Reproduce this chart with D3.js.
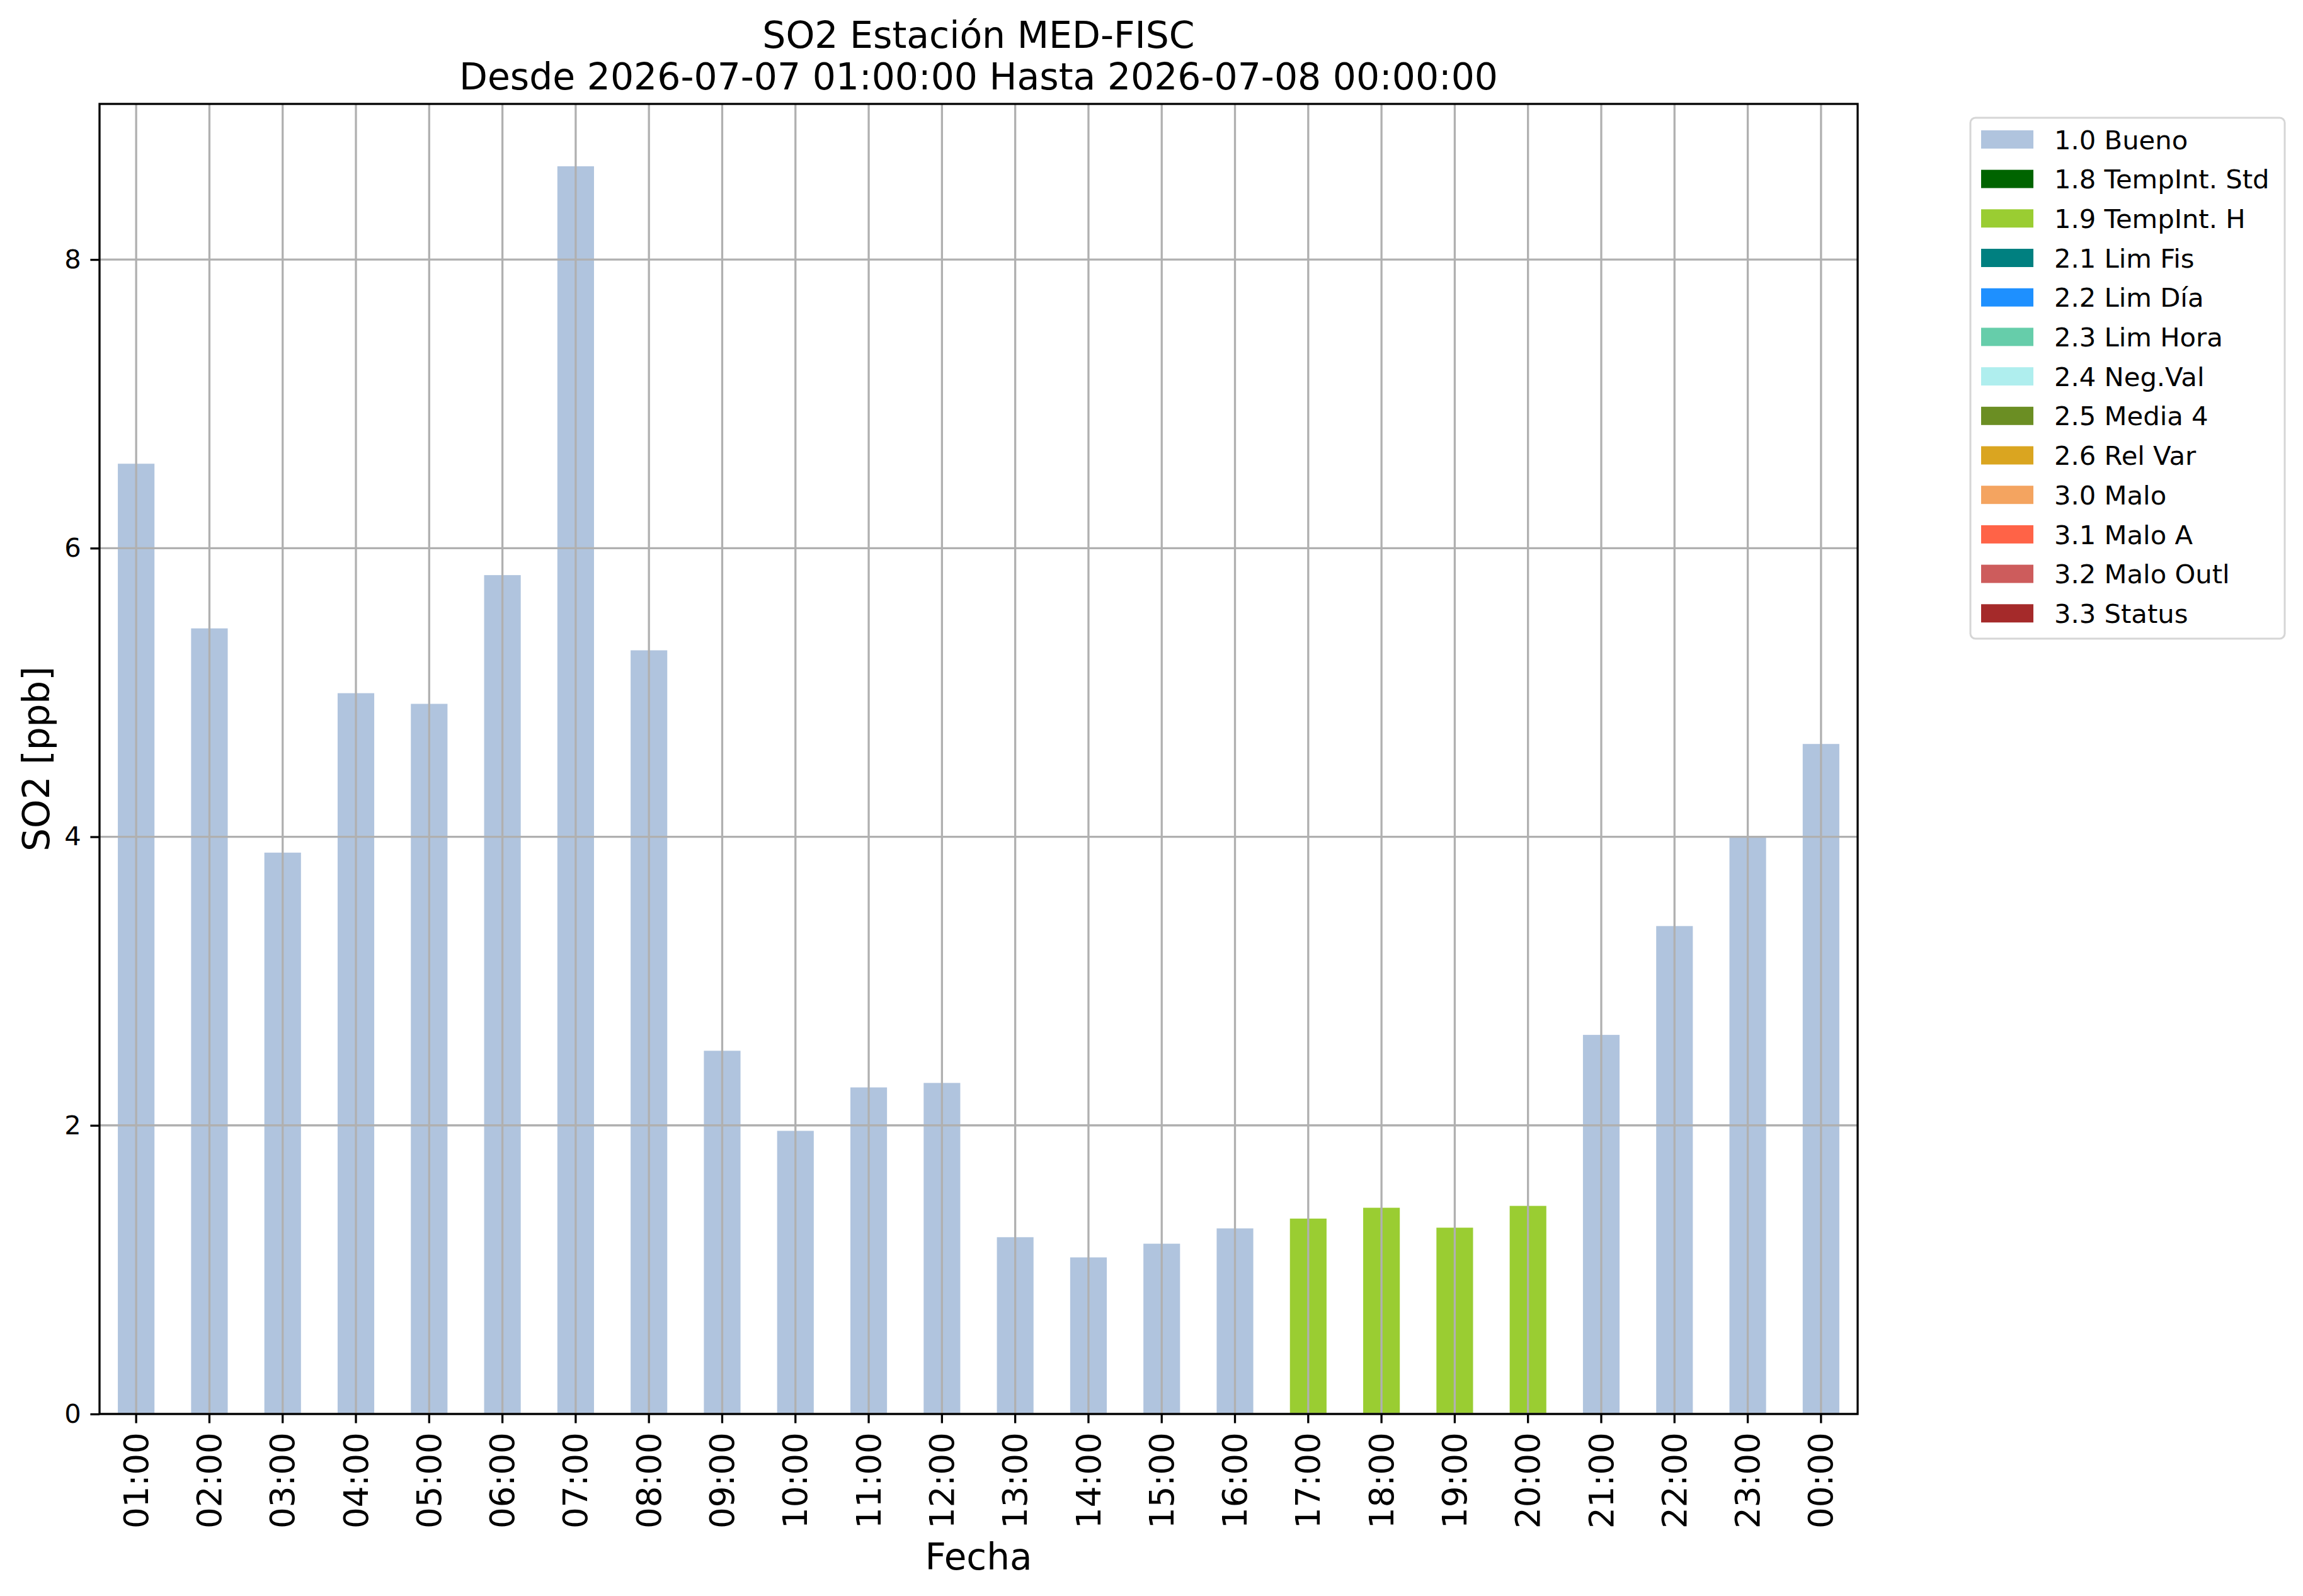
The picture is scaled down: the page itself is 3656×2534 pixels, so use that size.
<!DOCTYPE html>
<html>
<head>
<meta charset="utf-8">
<script src="https://cdn.jsdelivr.net/npm/d3@7"></script>
<style>
  html, body { margin: 0; padding: 0; background: #fff; }
  svg { display: block; font-family: "DejaVu Sans", sans-serif; }
</style>
</head>
<body>
<div id="chart"></div>
<script>
// datos
const hours = ["01:00", "02:00", "03:00", "04:00", "05:00", "06:00", "07:00", "08:00",
  "09:00", "10:00", "11:00", "12:00", "13:00", "14:00", "15:00", "16:00",
  "17:00", "18:00", "19:00", "20:00", "21:00", "22:00", "23:00", "00:00"];
const so2 = [6.585, 5.444, 3.890, 4.995, 4.921, 5.813, 8.646, 5.292,
  2.517, 1.962, 2.263, 2.294, 1.225, 1.085, 1.180, 1.286,
  1.354, 1.429, 1.291, 1.442, 2.627, 3.381, 3.995, 4.643];
const flags = ["1.0 Bueno", "1.0 Bueno", "1.0 Bueno", "1.0 Bueno", "1.0 Bueno", "1.0 Bueno", "1.0 Bueno", "1.0 Bueno",
  "1.0 Bueno", "1.0 Bueno", "1.0 Bueno", "1.0 Bueno", "1.0 Bueno", "1.0 Bueno", "1.0 Bueno", "1.0 Bueno",
  "1.9 TempInt. H", "1.9 TempInt. H", "1.9 TempInt. H", "1.9 TempInt. H",
  "1.0 Bueno", "1.0 Bueno", "1.0 Bueno", "1.0 Bueno"];
const legendLabels = ["1.0 Bueno", "1.8 TempInt. Std", "1.9 TempInt. H", "2.1 Lim Fis", "2.2 Lim Día",
  "2.3 Lim Hora", "2.4 Neg.Val", "2.5 Media 4", "2.6 Rel Var", "3.0 Malo", "3.1 Malo A",
  "3.2 Malo Outl", "3.3 Status"];
const legendColors = ["#b0c4de", "#006400", "#9acd32", "#008080", "#1e90ff",
  "#66cdaa", "#afeeee", "#6b8e23", "#daa520", "#f4a460", "#ff6347",
  "#cd5c5c", "#a52a2a"];
const yTicks = [0, 2, 4, 6, 8];
const titleLines = ["SO2 Estación MED-FISC", "Desde 2026-07-07 01:00:00 Hasta 2026-07-08 00:00:00"];

const W = 3656, H = 2534;
const plot = { left: 158, right: 2949, top: 165, bottom: 2245 };
const lw = 3.3;

const color = d3.scaleOrdinal().domain(legendLabels).range(legendColors);

const x = d3.scaleBand()
  .domain(hours)
  .range([plot.left, plot.right])
  .paddingInner(0.5)
  .paddingOuter(0.25);

const y = d3.scaleLinear()
  .domain([0, d3.max(so2) * 1.05])
  .range([plot.bottom, plot.top]);

const svg = d3.select("#chart").append("svg")
  .attr("width", W)
  .attr("height", H);

svg.append("rect").attr("width", W).attr("height", H).attr("fill", "#fff");

const data = hours.map((h, i) => ({ hour: h, value: so2[i], flag: flags[i] }));

// barras
svg.append("g").selectAll("rect")
  .data(data)
  .join("rect")
  .attr("x", d => x(d.hour))
  .attr("width", x.bandwidth())
  .attr("y", d => y(d.value))
  .attr("height", d => y(0) - y(d.value))
  .attr("fill", d => color(d.flag));

// grilla encima de las barras
const grid = svg.append("g").attr("stroke", "#b0b0b0").attr("stroke-width", lw);
grid.selectAll("line.v")
  .data(hours)
  .join("line")
  .attr("class", "v")
  .attr("x1", d => x(d) + x.bandwidth() / 2)
  .attr("x2", d => x(d) + x.bandwidth() / 2)
  .attr("y1", plot.top)
  .attr("y2", plot.bottom);
grid.selectAll("line.h")
  .data(yTicks)
  .join("line")
  .attr("class", "h")
  .attr("x1", plot.left)
  .attr("x2", plot.right)
  .attr("y1", d => y(d))
  .attr("y2", d => y(d));

// ejes
const xAxis = d3.axisBottom(x).tickSize(14.6).tickPadding(14.6);
const gx = svg.append("g")
  .attr("transform", `translate(0,${plot.bottom})`)
  .call(xAxis);
gx.select(".domain").remove();
gx.selectAll(".tick line").attr("stroke", "#000").attr("stroke-width", lw);
gx.selectAll(".tick text")
  .attr("font-size", 53)
  .attr("font-family", "DejaVu Sans")
  .attr("fill", "#000")
  .attr("text-anchor", "end")
  .attr("transform", "translate(0,29.2) rotate(-90)")
  .attr("x", 0)
  .attr("y", 0)
  .attr("dy", "0.35em");

const yAxis = d3.axisLeft(y).tickValues(yTicks).tickFormat(d3.format("d")).tickSize(14.6).tickPadding(14.6);
const gy = svg.append("g")
  .attr("transform", `translate(${plot.left},0)`)
  .call(yAxis);
gy.select(".domain").remove();
gy.selectAll(".tick line").attr("stroke", "#000").attr("stroke-width", lw);
gy.selectAll(".tick text")
  .attr("font-size", 41.7)
  .attr("font-family", "DejaVu Sans")
  .attr("fill", "#000");

svg.append("rect")
  .attr("x", plot.left)
  .attr("y", plot.top)
  .attr("width", plot.right - plot.left)
  .attr("height", plot.bottom - plot.top)
  .attr("fill", "none")
  .attr("stroke", "#000")
  .attr("stroke-width", lw);

// titulos
const cx = (plot.left + plot.right) / 2;
svg.append("g").selectAll("text")
  .data(titleLines)
  .join("text")
  .attr("x", cx)
  .attr("y", (d, i) => 76 + i * 66)
  .attr("text-anchor", "middle")
  .attr("font-size", 58.4)
  .text(d => d);

svg.append("text")
  .attr("x", cx)
  .attr("y", 2492)
  .attr("text-anchor", "middle")
  .attr("font-size", 58)
  .text("Fecha");

svg.append("text")
  .attr("transform", `translate(78,${(plot.top + plot.bottom) / 2}) rotate(-90)`)
  .attr("text-anchor", "middle")
  .attr("font-size", 58)
  .text("SO2 [ppb]");

// leyenda
const lg = { x: 3128, y: 187, w: 499, h: 827, row: 62.7 };
const legend = svg.append("g");
legend.append("rect")
  .attr("x", lg.x)
  .attr("y", lg.y)
  .attr("width", lg.w)
  .attr("height", lg.h)
  .attr("rx", 8)
  .attr("fill", "#fff")
  .attr("fill-opacity", 0.8)
  .attr("stroke", "#d6d6d6")
  .attr("stroke-width", 3);

const items = legend.selectAll("g.item")
  .data(legendLabels)
  .join("g")
  .attr("class", "item")
  .attr("transform", (d, i) => `translate(${lg.x + 17},${221.5 + i * lg.row})`);
items.append("rect")
  .attr("x", 0)
  .attr("y", -14.6)
  .attr("width", 83)
  .attr("height", 29)
  .attr("fill", d => color(d));
items.append("text")
  .attr("x", 116)
  .attr("dy", "0.36em")
  .attr("font-size", 41.7)
  .text(d => d);
</script>
</body>
</html>
